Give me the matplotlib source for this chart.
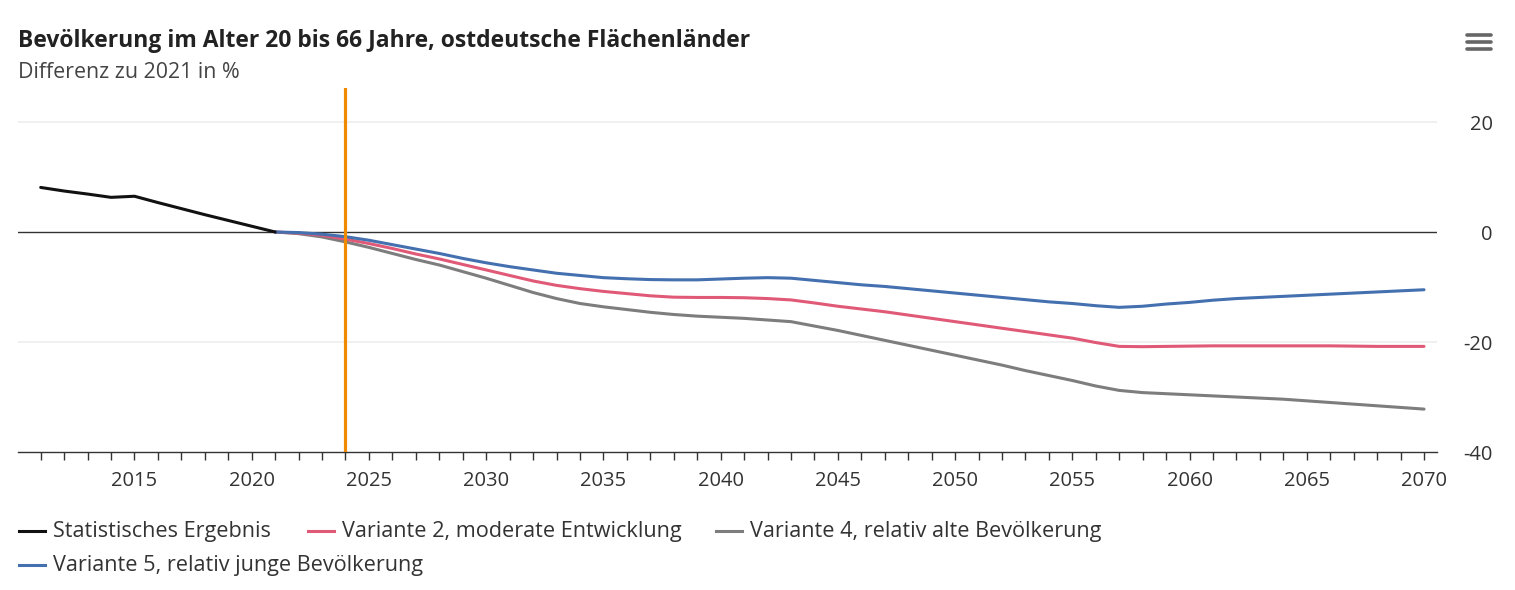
import matplotlib
matplotlib.use("Agg")
import matplotlib.pyplot as plt
from matplotlib.lines import Line2D
import numpy as np

plt.rcParams['font.family'] = ['Open Sans', 'DejaVu Sans']

# ---------------- data ----------------
years_hist = list(range(2011, 2022))
hist = [8.1, 7.45, 6.9, 6.3, 6.5, 5.35, 4.25, 3.15, 2.1, 1.05, 0.0]

years_proj = list(range(2021, 2071))
v2 = [0.0, -0.2, -0.6, -1.3, -2.1, -3.0, -4.0, -4.9, -5.9, -6.9,
      -7.9, -8.9, -9.7, -10.3, -10.8, -11.2, -11.6, -11.85, -11.9, -11.9,
      -11.95, -12.1, -12.35, -12.9, -13.5, -14.0, -14.5, -15.1, -15.7, -16.3,
      -16.9, -17.5, -18.1, -18.7, -19.3, -20.1, -20.8, -20.85, -20.8, -20.75,
      -20.7, -20.7, -20.7, -20.7, -20.7, -20.7, -20.75, -20.8, -20.8, -20.8]
v4 = [0.0, -0.3, -0.9, -1.8, -2.8, -3.9, -5.0, -6.0, -7.2, -8.4,
      -9.7, -11.0, -12.1, -13.0, -13.6, -14.1, -14.6, -15.0, -15.3, -15.5,
      -15.7, -16.0, -16.3, -17.1, -17.9, -18.8, -19.7, -20.6, -21.5, -22.4,
      -23.3, -24.2, -25.2, -26.1, -27.0, -28.0, -28.8, -29.2, -29.4, -29.6,
      -29.8, -30.0, -30.2, -30.4, -30.7, -31.0, -31.3, -31.6, -31.9, -32.2]
v5 = [0.0, -0.1, -0.4, -0.85, -1.5, -2.3, -3.1, -3.9, -4.8, -5.6,
      -6.3, -6.9, -7.5, -7.9, -8.3, -8.5, -8.65, -8.7, -8.7, -8.55,
      -8.4, -8.3, -8.4, -8.8, -9.2, -9.6, -9.9, -10.3, -10.7, -11.1,
      -11.5, -11.9, -12.3, -12.7, -13.0, -13.4, -13.7, -13.5, -13.1, -12.8,
      -12.4, -12.1, -11.9, -11.7, -11.5, -11.3, -11.1, -10.9, -10.7, -10.5]

marker_year = 2024
y_ticks = [20, 0, -20, -40]
x_label_ticks = list(range(2015, 2071, 5))

title = "Bevölkerung im Alter 20 bis 66 Jahre, ostdeutsche Flächenländer"
subtitle = "Differenz zu 2021 in %"
labels = ["Statistisches Ergebnis", "Variante 2, moderate Entwicklung",
          "Variante 4, relativ alte Bevölkerung",
          "Variante 5, relativ junge Bevölkerung"]
colors = ["#111111", "#e05a78", "#7d7d7d", "#4470b0"]

# ---------------- figure ----------------
W, H = 1515, 590
fig = plt.figure(figsize=(W / 100, H / 100), dpi=100)
fig.patch.set_facecolor("white")

left_px, right_px, top_px, bot_px = 18, 1437, 88, 452
ax = fig.add_axes([left_px / W, 1 - bot_px / H, (right_px - left_px) / W, (bot_px - top_px) / H])

ppy = (1424 - 40.7) / 59.0
ax.set_xlim(2011 - (40.7 - left_px) / ppy, 2070 + (right_px - 1424) / ppy)
ax.set_ylim(-40, 20 + (122 - 88) / 5.5)

for s in ["left", "right", "top"]:
    ax.spines[s].set_visible(False)
ax.spines["bottom"].set_color("#333333")
ax.spines["bottom"].set_linewidth(1.0)

# grid
for yv in y_ticks:
    if yv in (20, -20):
        ax.axhline(yv, color="#eeeeee", lw=1.2, zorder=0)
ax.axhline(0, color="#333333", lw=1.0, zorder=1)

lw = 2.2
ax.plot(years_proj, v4, color=colors[2], lw=lw, zorder=3, solid_capstyle="round", solid_joinstyle="round")
ax.plot(years_proj, v2, color=colors[1], lw=lw, zorder=4, solid_capstyle="round", solid_joinstyle="round")
ax.plot(years_proj, v5, color=colors[3], lw=lw, zorder=5, solid_capstyle="round", solid_joinstyle="round")
ax.plot(years_hist, hist, color=colors[0], lw=lw, zorder=6, solid_capstyle="round", solid_joinstyle="round")

ax.axvline(marker_year, color="#f08a00", lw=2.3, zorder=10)

# x ticks
ax.set_xticks(x_label_ticks)
ax.set_xticks(list(range(2011, 2071)), minor=True)
ax.tick_params(axis="x", which="both", direction="out", length=6, width=1, color="#333333")
ax.tick_params(axis="x", which="major", labelsize=14.5, labelcolor="#333333", pad=8)

# y ticks on right
ax.yaxis.tick_right()
ax.set_yticks(y_ticks)
ax.set_yticklabels([str(v) for v in y_ticks])
ax.tick_params(axis="y", length=0, labelsize=14.5, labelcolor="#333333", pad=40)
for lab in ax.get_yticklabels():
    lab.set_horizontalalignment("right")

# title
fig.text(18 / W, 1 - 41 / H, title, fontsize=16.5, fontweight="bold", color="#222222",
         ha="left", va="center")
fig.text(18 / W, 1 - 73 / H, subtitle, fontsize=15.4, color="#444444", ha="left", va="center")

# hamburger icon
for yy in (35, 42, 49):
    fig.add_artist(Line2D([1467 / W, 1491 / W], [1 - yy / H, 1 - yy / H], color="#666666",
                          lw=2.6, solid_capstyle="round"))

# legend
leg_items = [(19, 532, 0), (308, 532, 1), (716, 532, 2), (19, 566, 3)]
for x0, y0, i in leg_items:
    fig.add_artist(Line2D([x0 / W, (x0 + 26) / W], [1 - (y0 - 1) / H, 1 - (y0 - 1) / H],
                          color=colors[i], lw=2.2))
    fig.text((x0 + 34) / W, 1 - y0 / H, labels[i], fontsize=15.6, color="#333333",
             ha="left", va="center")

fig.savefig("out.png", dpi=100, facecolor="white")
